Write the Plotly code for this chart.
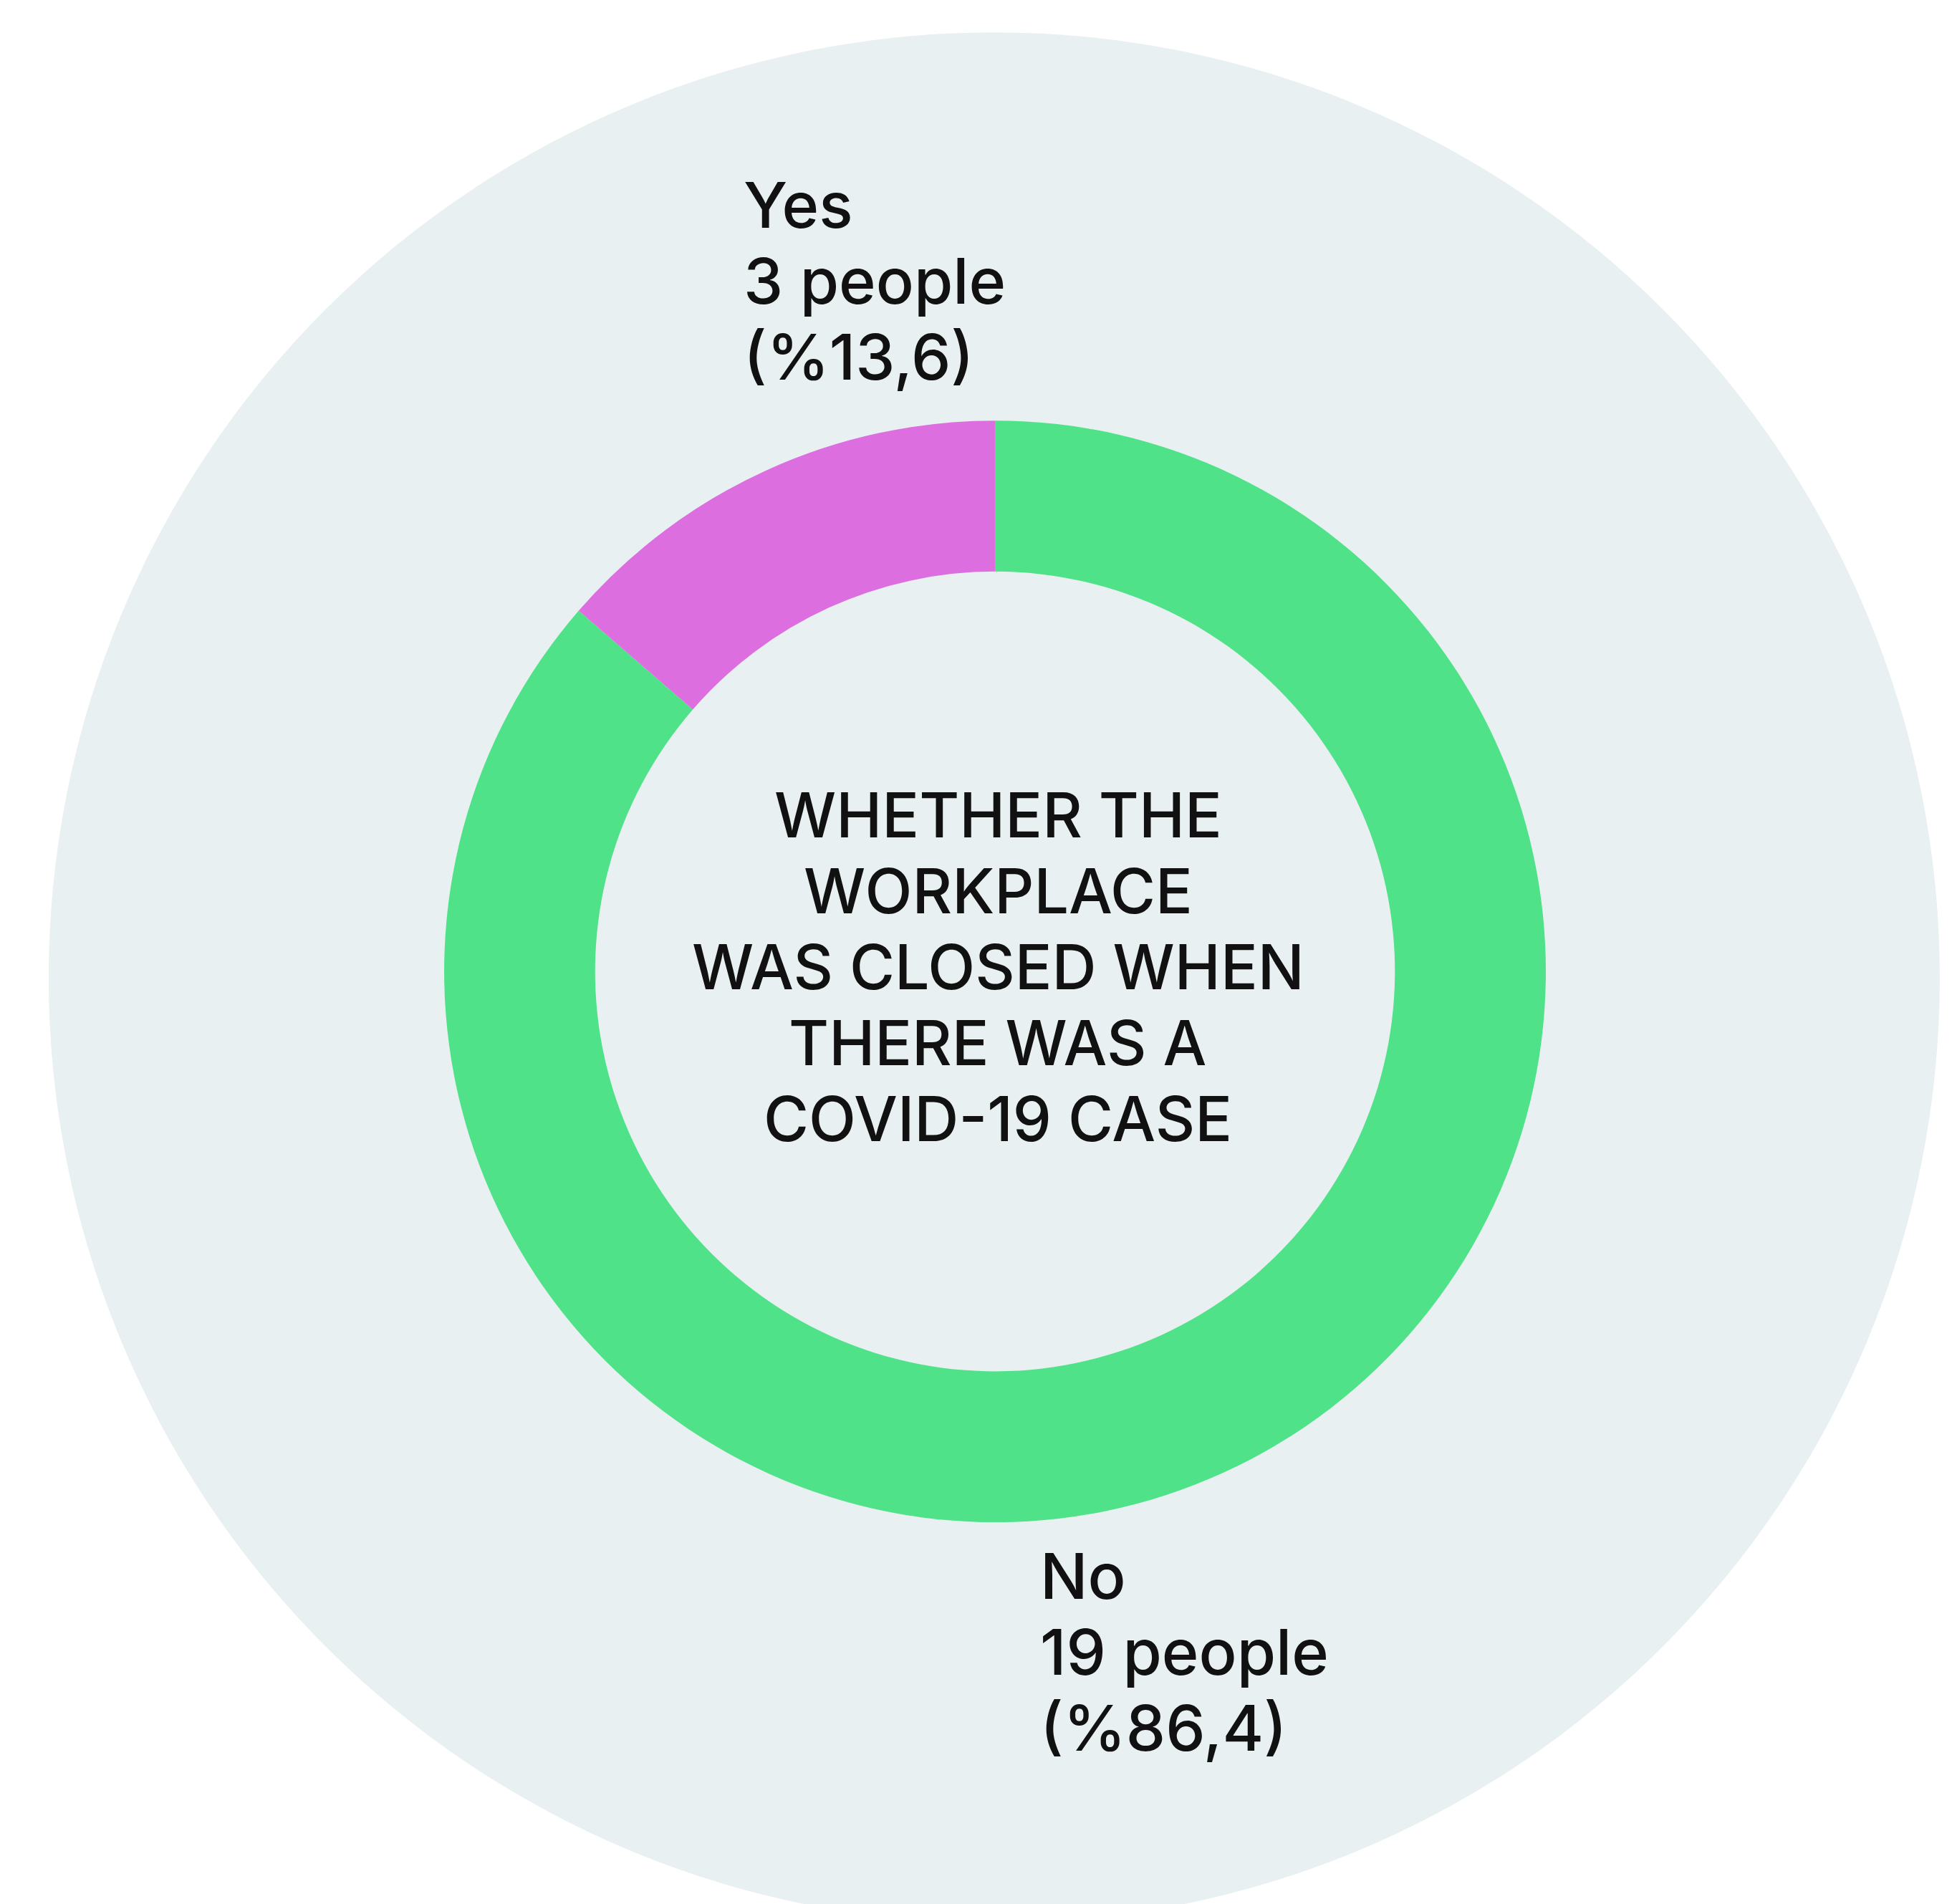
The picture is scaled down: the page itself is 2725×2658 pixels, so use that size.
import plotly.graph_objects as go

# survey answers (No listed first so that Yes sits just left of 12 o'clock)
labels = ["No", "Yes"]
people = [19, 3]
slice_colors = ["#4FE288", "#DC6EE0"]

center_lines = ["WHETHER THE", "WORKPLACE", "WAS CLOSED WHEN", "THERE WAS A", "COVID-19 CASE"]

total = sum(people)
pct_text = [f"{100 * n / total:.1f}".replace(".", ",") for n in people]

W, H = 2725, 2658
FONT = "Inter, Roboto, sans-serif"


def py(pix):
    # pixel row from top -> paper y
    return 1 - pix / H


fig = go.Figure()

fig.add_trace(go.Pie(
    labels=labels,
    values=people,
    hole=0.726,
    sort=False,
    direction="clockwise",
    rotation=0,
    marker=dict(colors=slice_colors, line=dict(width=0)),
    textinfo="none",
    hoverinfo="label+value+percent",
    showlegend=False,
    domain=dict(x=[0.2246, 0.7890], y=[0.2035, 0.7821]),
))

# big pale circle behind the donut
fig.add_shape(type="circle", xref="paper", yref="paper",
              x0=0.022, x1=0.9908, y0=-0.0072, y1=0.986,
              fillcolor="#E8F0F1", line=dict(width=0), layer="below")

# center title, one annotation per line to control spacing
c_size = 86
for i, line in enumerate(center_lines):
    cy = 1354 + (i - 2) * 106 - 0.14 * c_size
    fig.add_annotation(text=line, xref="paper", yref="paper",
                       x=1385 / W, y=py(cy), xanchor="center", yanchor="middle",
                       showarrow=False,
                       font=dict(family=FONT, size=c_size, color="#111111", weight=500))

# slice labels
l_size = 88
label_pos = {"Yes": (1028, 290), "No": (1442, 2204)}
for lab, n, p in zip(labels, people, pct_text):
    lx, ly = label_pos[lab]
    rows = [lab, f"{n} people", f"(%{p})"]
    for j, row in enumerate(rows):
        cy = ly + j * 106 - 0.14 * l_size
        fig.add_annotation(text=row, xref="paper", yref="paper",
                           x=lx / W, y=py(cy), xanchor="left", yanchor="middle",
                           showarrow=False,
                           font=dict(family=FONT, size=l_size, color="#111111", weight=500))

fig.update_layout(
    width=W, height=H,
    margin=dict(l=0, r=0, t=0, b=0),
    paper_bgcolor="white",
    plot_bgcolor="white",
)

fig.write_html("out.html")
